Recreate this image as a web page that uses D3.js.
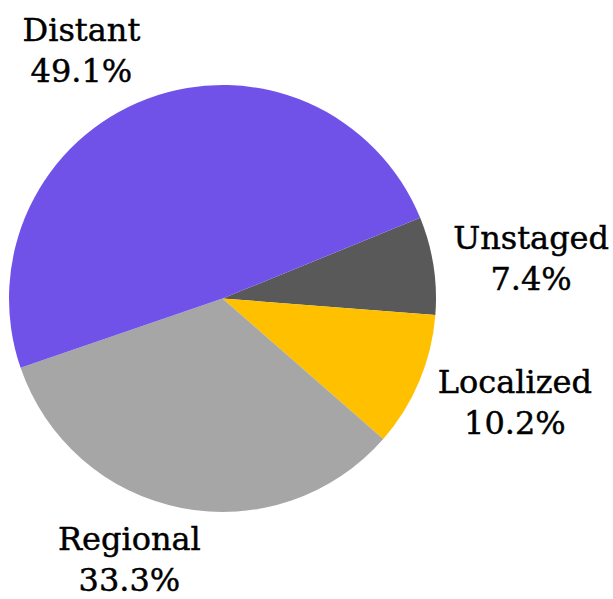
<!DOCTYPE html>
<html>
<head>
<meta charset="utf-8">
<script src="https://cdn.jsdelivr.net/npm/d3@7"></script>
<style>
  html, body { margin: 0; padding: 0; background: #fff; }
  svg { display: block; }
</style>
</head>
<body>
<script>
// Stage at diagnosis — share of cases
const categories = ["Unstaged", "Localized", "Regional", "Distant"];
const shares = [7.4, 10.2, 33.3, 49.1];
const colors = ["#595959", "#ffc000", "#a6a6a6", "#7152e9"];

const width = 613, height = 599;
const cx = 222.5, cy = 298.5, radius = 213.5;
const startDeg = 67.8;

const svg = d3.select("body").append("svg")
  .attr("width", width)
  .attr("height", height);

const data = categories.map((c, i) => ({ name: c, value: shares[i], color: colors[i] }));

const pie = d3.pie()
  .value(d => d.value)
  .sort(null)
  .startAngle(startDeg * Math.PI / 180)
  .endAngle(startDeg * Math.PI / 180 + 2 * Math.PI);

const arc = d3.arc().innerRadius(0).outerRadius(radius);
const arcs = pie(data);

const g = svg.append("g").attr("transform", `translate(${cx},${cy})`);

g.selectAll("path.slice")
  .data(arcs)
  .join("path")
  .attr("class", "slice")
  .attr("d", arc)
  .attr("fill", d => d.data.color);

// Labels: anchor on the mid-angle ray just outside the rim, then push the
// two-line text block outward so its nearest edge sits on that anchor.
const fontSize = 32, lineGap = 41;
const capHeight = 0.729 * fontSize;
const labelGap = 20;
const fmt = d3.format(".1f");

const labels = g.selectAll("g.label")
  .data(arcs)
  .join("g")
  .attr("class", "label");

labels.each(function (d) {
  const t = d3.select(this).append("text")
    .attr("text-anchor", "middle")
    .attr("font-family", "'DejaVu Serif', serif")
    .attr("font-size", fontSize)
    .attr("fill", "#000")
    .attr("stroke", "#000")
    .attr("stroke-width", 0.45);
  t.append("tspan").attr("x", 0).attr("y", 0).text(d.data.name);
  t.append("tspan").attr("x", 0).attr("y", lineGap).text(fmt(d.data.value) + "%");

  // visual block: cap top of first line to baseline of second line
  const bb = this.getBBox();
  const w = bb.width;
  const top = -capHeight, bottom = lineGap;
  const h = bottom - top;

  const mid = (d.startAngle + d.endAngle) / 2;
  const s = Math.sin(mid), c = Math.cos(mid);
  const ax = (radius + labelGap) * s;
  const ay = -(radius + labelGap) * c;
  const fx = Math.max(-1, Math.min(1, s * 3.5));
  const bx = ax + (w / 2) * fx;
  const by = ay - (h / 2) * c;
  const ox = bx - (bb.x + w / 2);
  const oy = by - (top + h / 2);
  d3.select(this).attr("transform", `translate(${ox},${oy})`);
});
</script>
</body>
</html>
